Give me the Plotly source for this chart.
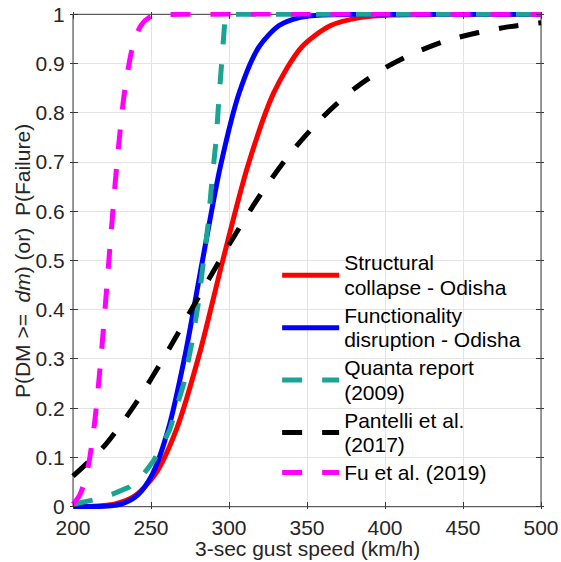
import plotly.graph_objects as go

# ---- data ----
red_x = [200, 216.0, 227.7, 239.9, 252.9, 266.5, 280.9, 296.0, 312.0, 328.8, 346.5, 365.2, 384.9, 405.6, 430, 500]
red_p = [0.0001, 0.0013, 0.0062, 0.0228, 0.0668, 0.1587, 0.3085, 0.5, 0.6915, 0.8413, 0.9332, 0.9772, 0.9938, 0.9987, 0.9999, 1.0]

blue_x = [200, 222.6, 231.7, 241.2, 251.0, 261.2, 271.9, 283.0, 294.5, 306.6, 319.1, 332.1, 345.7, 359.8, 380, 500]
blue_p = [0.00001, 0.0013, 0.0062, 0.0228, 0.0668, 0.1587, 0.3085, 0.5, 0.6915, 0.8413, 0.9332, 0.9772, 0.9938, 0.9987, 0.9999, 1.0]

quanta_x = [200, 205, 215, 225, 236, 245, 252, 262, 271, 276, 280, 283.5, 286.7, 289, 291.7, 293.6, 295, 296.4, 297.5, 298.3, 500]
quanta_p = [0.005, 0.008, 0.015, 0.025, 0.04, 0.065, 0.095, 0.156, 0.25, 0.33, 0.406, 0.494, 0.576, 0.66, 0.743, 0.831, 0.899, 0.967, 0.993, 1.0, 1.0]

pant_x = [200, 220, 240, 260, 280, 300, 320, 340, 360, 380, 400, 420, 440, 460, 480, 500]
pant_p = [0.062, 0.123, 0.209, 0.312, 0.423, 0.532, 0.633, 0.720, 0.791, 0.848, 0.891, 0.923, 0.947, 0.963, 0.975, 0.983]

fu_x = [200, 204.2, 208.8, 213.4, 218.1, 223.0, 228.0, 233.0, 238.2, 243.5, 248.9, 254.4, 270, 500]
fu_p = [0.005, 0.0228, 0.0668, 0.1587, 0.3085, 0.5, 0.6915, 0.8413, 0.9332, 0.9772, 0.9938, 0.9987, 1.0, 1.0]

names = ["Structural<br>collapse - Odisha",
         "Functionality<br>disruption - Odisha",
         "Quanta report<br>(2009)",
         "Pantelli et al.<br>(2017)",
         "Fu et al. (2019)"]

x_ticks = [200, 250, 300, 350, 400, 450, 500]
y_ticks = [0, 0.1, 0.2, 0.3, 0.4, 0.5, 0.6, 0.7, 0.8, 0.9, 1]
y_tick_text = ["0", "0.1", "0.2", "0.3", "0.4", "0.5", "0.6", "0.7", "0.8", "0.9", "1"]

x_title = "3-sec gust speed (km/h)"
y_title = "P(DM >=\u00a0 <i>dm</i>) (or)\u00a0 P(Failure)"

FONT = "Liberation Sans, Arial, Helvetica, sans-serif"
AX = "#3a3a3a"
TXT = "#262626"
LW = 5
DASH = "20px,20px"


def big(t):
    return '<span style="font-size:21px">' + t.replace("<br>", '</span><br><span style="font-size:21px">') + "</span>"


fig = go.Figure()
fig.add_trace(go.Scatter(x=red_x, y=red_p, mode="lines", name=big(names[0]),
                         line=dict(color="#FF0000", width=LW, shape="spline", smoothing=0.8)))
fig.add_trace(go.Scatter(x=blue_x, y=blue_p, mode="lines", name=big(names[1]),
                         line=dict(color="#0000FF", width=LW, shape="spline", smoothing=0.8)))
fig.add_trace(go.Scatter(x=quanta_x, y=quanta_p, mode="lines", name=big(names[2]),
                         line=dict(color="#1BA394", width=LW, dash=DASH)))
fig.add_trace(go.Scatter(x=pant_x, y=pant_p, mode="lines", name=big(names[3]),
                         line=dict(color="#000000", width=LW, dash=DASH, shape="spline", smoothing=0.8)))
fig.add_trace(go.Scatter(x=fu_x, y=fu_p, mode="lines", name=big(names[4]),
                         line=dict(color="#FF00FF", width=LW, dash=DASH, shape="spline", smoothing=0.8)))

# axes frame
fig.add_shape(type="rect", xref="x", yref="y", x0=200, x1=500, y0=0, y1=1,
              line=dict(color=AX, width=1), layer="between")

# axis titles as annotations (placed freely within the margins)
fig.add_annotation(text=x_title, xref="paper", yref="paper", x=0.5, y=-0.0785,
                   xanchor="center", yanchor="middle", showarrow=False,
                   font=dict(family=FONT, size=21, color=TXT))
fig.add_annotation(text=y_title, xref="paper", yref="paper", x=-0.1, y=0.498,
                   xanchor="center", yanchor="middle", showarrow=False, textangle=-90,
                   font=dict(family=FONT, size=21, color=TXT))

fig.update_layout(
    width=561, height=562,
    autosize=False,
    margin=dict(l=70, r=17, t=12, b=53, pad=0, autoexpand=False),
    paper_bgcolor="white", plot_bgcolor="white",
    font=dict(family=FONT, size=21, color=TXT),
    showlegend=True,
    legend=dict(x=0.437, y=0.533, xanchor="left", yanchor="top",
                bgcolor="rgba(0,0,0,0)", borderwidth=0,
                font=dict(size=19, color="#000000"),
                tracegroupgap=0, itemwidth=57),
    xaxis=dict(range=[198.077, 501.923], tickvals=x_ticks, ticktext=[str(v) for v in x_ticks],
               automargin=False,
               showgrid=True, gridcolor="#e3e3e3", gridwidth=1, zeroline=False,
               ticks="inside", ticklen=7, tickcolor=AX, tickwidth=1,
               showline=True, linecolor="rgba(0,0,0,0)", mirror="ticks"),
    yaxis=dict(range=[-0.00467, 1.00467], tickvals=y_ticks, ticktext=y_tick_text,
               automargin=False,
               showgrid=True, gridcolor="#e3e3e3", gridwidth=1, zeroline=False,
               ticks="inside", ticklen=8, tickcolor=AX, tickwidth=1,
               showline=True, linecolor="rgba(0,0,0,0)", mirror="ticks"),
)

fig.write_html("out.html")
